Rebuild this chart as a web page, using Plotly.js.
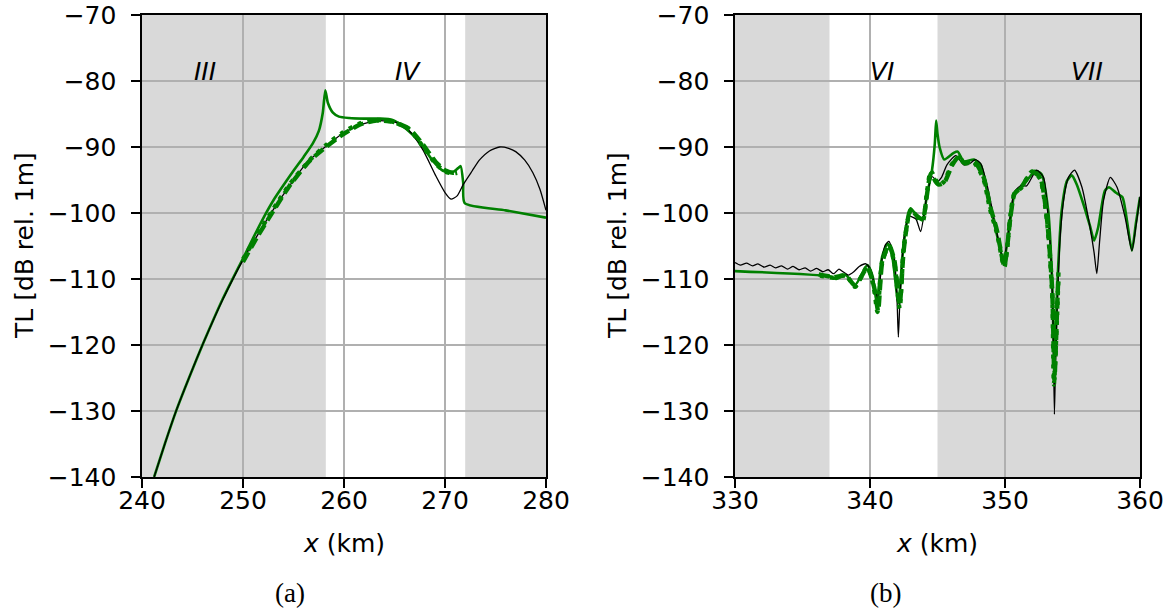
<!DOCTYPE html>
<html>
<head>
<meta charset="utf-8">
<script src="https://cdn.plot.ly/plotly-3.0.1.min.js"></script>
<style>
html,body{margin:0;padding:0;background:#fff;}
#chart{width:1173px;height:613px;}
</style>
</head>
<body>
<div id="chart"></div>
<script>
// ---------- Panel (a): x in km, TL in dB ----------
const refA_x = [241.2, 242.3, 243.4, 244.7, 246.1, 248.0, 250.0, 251.5, 253.0, 254.6, 256.3, 258.3, 260.0, 261.9, 263.5, 265.2, 266.5, 267.8, 269.1, 270.0, 270.6, 271.2, 271.8, 272.7, 273.4, 274.4, 275.4, 276.3, 277.0, 277.9, 278.7, 279.4, 280.0];
const refA_y = [-140, -134.8, -129.9, -124.8, -119.6, -113.1, -107.1, -103.2, -99.5, -95.9, -92.4, -89.8, -87.8, -86.5, -86.0, -86.3, -87.6, -90.4, -94.4, -96.9, -97.9, -97.4, -95.7, -93.6, -92.0, -90.6, -90.0, -90.2, -90.7, -92.0, -93.9, -96.4, -99.6];

const solidA_x = [241.2, 242.3, 243.4, 244.7, 246.1, 248.0, 249.0, 250.0, 251.0, 252.0, 253.0, 254.0, 255.0, 256.0, 256.9, 257.5, 257.9, 258.15, 258.4, 258.9, 259.5, 260.5, 262.0, 263.5, 264.8, 266.2, 267.5, 268.8, 269.8, 270.8, 271.3, 271.55, 271.8, 271.95, 276.0, 280.0];
const solidA_y = [-140, -134.8, -129.9, -124.8, -119.6, -113.0, -109.9, -106.9, -103.8, -100.8, -98.1, -95.8, -93.6, -91.5, -89.5, -87.6, -84.8, -81.4, -83.3, -84.8, -85.4, -85.6, -85.7, -85.7, -85.9, -87.3, -89.3, -92.1, -93.6, -93.8, -93.2, -92.9, -95.4, -98.5, -99.6, -100.7];

const dashA_x = [250.0, 251.5, 253.0, 254.6, 256.6, 258.3, 259.9, 261.6, 263.2, 264.9, 266.5, 267.8, 269.1, 270.1, 270.8, 271.2];
const dashA_y = [-107.4, -103.4, -99.7, -95.9, -92.1, -89.9, -88.1, -86.6, -86.0, -86.2, -87.3, -89.6, -92.3, -93.6, -93.9, -93.8];

const dotA_x = [250.0, 251.5, 253.0, 254.6, 256.6, 258.3, 259.9, 261.6, 263.2, 264.9, 266.5, 267.8, 269.1, 270.1, 270.8, 271.2];
const dotA_y = [-107.0, -103.1, -99.4, -95.7, -92.0, -89.6, -87.8, -86.4, -85.9, -86.2, -87.4, -89.9, -92.6, -93.8, -94.0, -93.9];

// ---------- Panel (b) ----------
const refB_x = [330.0, 330.4, 330.85, 331.3, 331.7, 332.15, 332.6, 333.0, 333.45, 333.9, 334.3, 334.75, 335.2, 335.6, 336.05, 336.5, 336.9, 337.3, 337.7, 338.0, 338.4, 338.8, 339.2, 339.7, 340.05, 340.4, 340.6, 340.9, 341.15, 341.4, 341.8, 342.0, 342.1, 342.2, 342.4, 342.65, 342.9, 343.4, 343.75, 344.2, 344.6, 345.0, 345.3, 345.7, 346.35, 346.95, 347.4, 347.8, 348.2, 348.7, 349.2, 349.6, 349.9, 350.2, 350.7, 351.2, 351.6, 352.35, 352.85, 353.2, 353.4, 353.55, 353.66, 353.75, 353.84, 354.1, 354.4, 354.7, 355.15, 355.7, 356.3, 356.6, 356.8, 357.0, 357.3, 357.8, 358.3, 358.9, 359.4, 359.7, 360.0];
const refB_y = [-107.5, -107.9, -107.6, -108.0, -107.7, -108.2, -107.9, -108.3, -108.0, -108.5, -108.1, -108.6, -108.3, -108.8, -108.4, -108.9, -108.6, -109.2, -108.5, -108.9, -109.4, -108.9, -108.1, -107.7, -108.6, -111.6, -113.0, -106.8, -104.8, -104.3, -106.8, -113.0, -118.8, -114.0, -106.3, -102.0, -100.5, -100.9, -102.8, -97.5, -94.5, -95.2, -94.6, -92.7, -91.3, -92.7, -92.5, -91.9, -92.5, -96.0, -101.0, -105.0, -107.6, -103.5, -96.8, -95.8, -95.9, -93.5, -94.6, -100.7, -106.5, -115.8, -130.5, -122.0, -115.8, -103.2, -97.2, -94.6, -93.5, -96.1, -102.2, -106.0, -109.2, -104.5, -98.1, -94.6, -96.1, -100.7, -105.7, -102.0, -97.5];

const solidB_x = [330.0, 337.0, 337.5, 338.2, 338.9, 339.8, 340.2, 340.5, 340.9, 341.3, 341.65, 342.1, 342.5, 343.0, 343.5, 343.9, 344.2, 344.6, 344.8, 344.9, 345.0, 345.15, 345.5, 346.2, 346.5, 346.95, 347.7, 348.2, 348.7, 349.2, 349.9, 350.5, 350.7, 351.2, 352.0, 352.2, 352.7, 353.2, 353.5, 353.66, 353.9, 354.2, 354.6, 354.95, 355.3, 355.8, 356.3, 356.6, 356.9, 357.4, 357.7, 358.2, 358.7, 359.0, 359.4, 359.7, 360.0];
const solidB_y = [-108.8, -109.6, -110.0, -109.4, -110.9, -107.9, -109.6, -113.7, -106.6, -104.6, -106.6, -113.7, -104.6, -99.3, -100.5, -101.0, -97.5, -93.4, -89.5, -86.0, -88.0, -90.0, -91.9, -90.9, -90.7, -92.2, -91.9, -92.7, -97.0, -101.5, -107.1, -99.6, -97.1, -96.1, -94.1, -93.6, -94.1, -99.6, -110.8, -124.0, -109.8, -99.6, -95.1, -94.3, -95.6, -98.6, -102.0, -104.2, -102.2, -96.6, -96.1, -96.9, -97.6, -100.7, -105.7, -101.5, -97.6];

const dashB_x = [336.2, 337.3, 338.2, 338.9, 339.8, 340.3, 340.6, 340.9, 341.4, 341.8, 342.2, 342.5, 343.0, 343.5, 343.9, 344.2, 344.5, 344.85, 345.1, 345.5, 346.1, 346.6, 346.95, 347.7, 348.4, 348.9, 349.4, 349.95, 350.4, 350.7, 351.2, 352.0, 352.6, 353.1, 353.5, 353.66, 353.84, 353.96];
const dashB_y = [-109.3, -109.7, -109.5, -111.0, -108.3, -111.2, -114.8, -107.6, -104.8, -107.1, -113.8, -105.6, -99.5, -100.5, -101.0, -97.5, -94.0, -95.2, -95.7, -95.4, -92.7, -91.4, -92.4, -92.2, -94.5, -99.0, -102.6, -108.0, -100.7, -97.1, -96.1, -93.8, -94.6, -100.7, -111.8, -125.4, -115.8, -109.0];

const dotB_x = [336.3, 337.3, 338.2, 338.9, 339.8, 340.3, 340.55, 340.9, 341.4, 341.8, 342.2, 342.5, 343.0, 343.5, 343.9, 344.2, 344.5, 344.85, 345.1, 345.5, 346.1, 346.6, 346.95, 347.7, 348.4, 348.9, 349.4, 349.95, 350.4, 350.7, 351.2, 352.0, 352.6, 353.1, 353.5, 353.62, 353.84, 353.96];
const dotB_y = [-109.5, -109.8, -109.4, -111.2, -108.1, -111.5, -115.0, -107.3, -105.0, -107.5, -114.5, -105.2, -99.8, -100.6, -101.3, -97.2, -93.6, -94.9, -95.8, -95.2, -92.5, -91.6, -92.5, -92.4, -94.8, -99.5, -103.0, -108.2, -100.4, -97.0, -96.2, -93.7, -94.8, -101.0, -112.5, -126.0, -116.5, -109.5];

// shaded regions and labels
const shadeA = [[240, 258.2], [272, 280]];
const shadeB = [[330, 337], [345, 360]];
const regionLabelsA = [{t: 'III', x: 246.2}, {t: 'IV', x: 266.3}];
const regionLabelsB = [{t: 'VI', x: 340.9}, {t: 'VII', x: 356.1}];
const labelY = -78.6;
const xTicksA = [240, 250, 260, 270, 280];
const xTicksB = [330, 340, 350, 360];
const yTicks = [-140, -130, -120, -110, -100, -90, -80, -70];

const GREEN = '#008000';
const FONT = 'DejaVu Sans, sans-serif';
const FS = 25;

function line(x, y, xa, ya, color, width, dash) {
  return {x: x, y: y, xaxis: xa, yaxis: ya, type: 'scatter', mode: 'lines',
    line: {color: color, width: width, dash: dash, shape: 'spline', smoothing: 0.6},
    hoverinfo: 'skip', showlegend: false};
}

const traces = [
  line(solidA_x, solidA_y, 'x', 'y', GREEN, 2.6, 'solid'),
  line(refA_x, refA_y, 'x', 'y', '#000000', 1.3, 'solid'),
  line(dashA_x, dashA_y, 'x', 'y', GREEN, 4.4, '11px,5px'),
  line(dotA_x, dotA_y, 'x', 'y', GREEN, 4.4, '4px,6px'),
  line(solidB_x, solidB_y, 'x2', 'y2', GREEN, 2.6, 'solid'),
  line(refB_x, refB_y, 'x2', 'y2', '#000000', 1.3, 'solid'),
  line(dashB_x, dashB_y, 'x2', 'y2', GREEN, 4.4, '11px,5px'),
  line(dotB_x, dotB_y, 'x2', 'y2', GREEN, 4.4, '4px,6px')
];

const shapes = [];
shadeA.forEach(s => shapes.push({type: 'rect', xref: 'x', yref: 'y domain', x0: s[0], x1: s[1], y0: 0, y1: 1, fillcolor: '#d9d9d9', line: {width: 0}, layer: 'below'}));
shadeB.forEach(s => shapes.push({type: 'rect', xref: 'x2', yref: 'y2 domain', x0: s[0], x1: s[1], y0: 0, y1: 1, fillcolor: '#d9d9d9', line: {width: 0}, layer: 'below'}));

const W = 1173, H = 613;
const annotations = [];
regionLabelsA.forEach(r => annotations.push({xref: 'x', yref: 'y', x: r.x, y: labelY, text: '<i>' + r.t + '</i>', showarrow: false, font: {family: FONT, size: FS, color: '#000'}}));
regionLabelsB.forEach(r => annotations.push({xref: 'x2', yref: 'y2', x: r.x, y: labelY, text: '<i>' + r.t + '</i>', showarrow: false, font: {family: FONT, size: FS, color: '#000'}}));
// axis titles
annotations.push({xref: 'paper', yref: 'paper', x: 24 / W, y: 1 - 246 / H, text: 'TL [dB rel. 1m]', textangle: -90, showarrow: false, xanchor: 'center', yanchor: 'middle', font: {family: FONT, size: FS, color: '#000'}});
annotations.push({xref: 'paper', yref: 'paper', x: 617 / W, y: 1 - 246 / H, text: 'TL [dB rel. 1m]', textangle: -90, showarrow: false, xanchor: 'center', yanchor: 'middle', font: {family: FONT, size: FS, color: '#000'}});
annotations.push({xref: 'paper', yref: 'paper', x: 344 / W, y: 1 - 543 / H, text: '<i>x</i> (km)', showarrow: false, xanchor: 'center', yanchor: 'middle', font: {family: FONT, size: FS, color: '#000'}});
annotations.push({xref: 'paper', yref: 'paper', x: 937 / W, y: 1 - 543 / H, text: '<i>x</i> (km)', showarrow: false, xanchor: 'center', yanchor: 'middle', font: {family: FONT, size: FS, color: '#000'}});
annotations.push({xref: 'paper', yref: 'paper', x: 290 / W, y: 1 - 593 / H, text: '(a)', showarrow: false, xanchor: 'center', yanchor: 'middle', font: {family: 'Liberation Serif, serif', size: 27, color: '#000'}});
annotations.push({xref: 'paper', yref: 'paper', x: 885 / W, y: 1 - 593 / H, text: '(b)', showarrow: false, xanchor: 'center', yanchor: 'middle', font: {family: 'Liberation Serif, serif', size: 27, color: '#000'}});

function xax(domain, range, ticks, anchor) {
  return {domain: domain, range: range, tickmode: 'array', tickvals: ticks, anchor: anchor,
    showgrid: true, gridcolor: '#b0b0b0', gridwidth: 1.5, zeroline: false,
    showline: true, linecolor: '#000', linewidth: 1.6, mirror: true,
    ticks: 'outside', ticklen: 9, tickwidth: 1.6, tickcolor: '#000',
    tickfont: {family: FONT, size: FS, color: '#000'}, ticklabelstandoff: -9, fixedrange: true};
}
function yax(range, ticks, anchor) {
  return {domain: [1 - 477 / H, 1 - 15 / H], range: range, tickmode: 'array', tickvals: ticks, anchor: anchor,
    showgrid: true, gridcolor: '#b0b0b0', gridwidth: 1.5, zeroline: false,
    showline: true, linecolor: '#000', linewidth: 1.6, mirror: true,
    ticks: 'outside', ticklen: 9, tickwidth: 1.6, tickcolor: '#000',
    tickfont: {family: FONT, size: FS, color: '#000'}, ticklabelstandoff: 10, fixedrange: true};
}

const layout = {
  width: W, height: H,
  margin: {l: 0, r: 0, t: 0, b: 0},
  paper_bgcolor: '#fff', plot_bgcolor: '#fff',
  showlegend: false,
  xaxis: xax([142 / W, 546 / W], [240, 280], xTicksA, 'y'),
  yaxis: yax([-140, -70], yTicks, 'x'),
  xaxis2: xax([735 / W, 1140 / W], [330, 360], xTicksB, 'y2'),
  yaxis2: yax([-140, -70], yTicks, 'x2'),
  shapes: shapes,
  annotations: annotations
};

Plotly.newPlot('chart', traces, layout, {staticPlot: true, displayModeBar: false});
</script>
</body>
</html>
